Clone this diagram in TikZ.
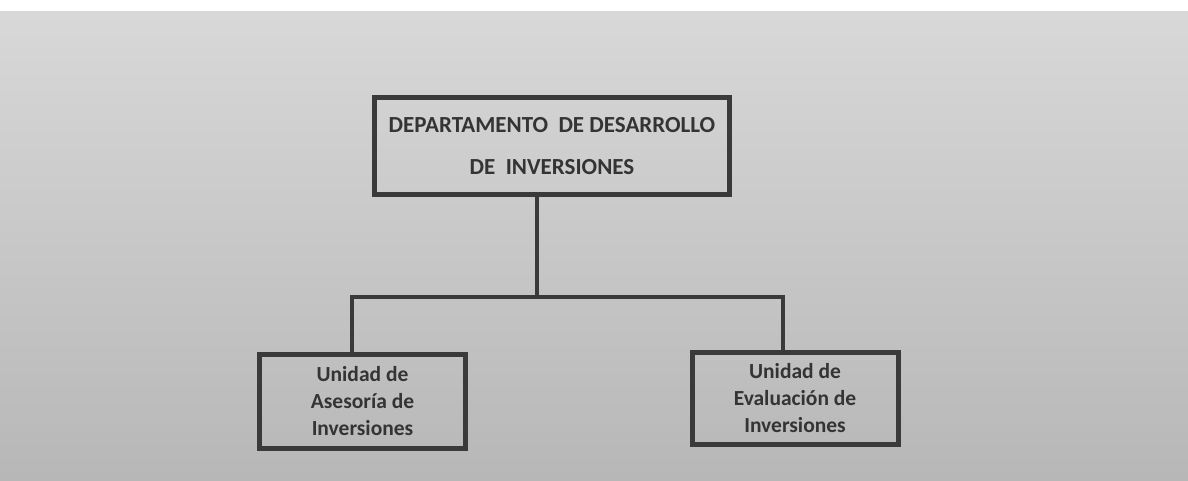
\documentclass[tikz,border=0pt]{standalone}
\usepackage{fontspec}
\setmainfont{Carlito}
\definecolor{ink}{HTML}{3A3A3A}
\definecolor{scanhi}{HTML}{D8D8D8}
\definecolor{scanlo}{HTML}{B7B7B7}
\begin{document}
\begin{tikzpicture}[
          x=1pt, y=1pt,
          line join=miter,
          unitbox/.style={rectangle, draw=ink, line width=5pt, align=center,
            font=\fontsize{21.5}{27}\selectfont\bfseries, text=ink!90!black},
          linkline/.style={draw=ink, line width=3.5pt}
        ]
        
        % scanned page
        \useasboundingbox (0,0) rectangle (1188,480);
        \fill[white] (0,0) rectangle (1188,480);
        \shade[top color=scanhi, bottom color=scanlo] (0,0) rectangle (1188,468);
        
        % top of the chart
        \node[unitbox, minimum width=355pt, minimum height=97pt,
              font=\fontsize{23}{42}\selectfont\bfseries] (dept) at (552,334)
            {DEPARTAMENTO\ \ DE DESARROLLO\\DE\ \ INVERSIONES};
        
        % units
        \node[unitbox, minimum width=206pt, minimum height=94pt] (asesoria) at (362.5,78.5)
            {Unidad de\\Asesoría de\\Inversiones};
        \node[unitbox, minimum width=206pt, minimum height=92pt] (evaluacion) at (795,81.5)
            {Unidad de\\Evaluación de\\Inversiones};
        
        % links
        \coordinate (busmid) at (537,183);
        \coordinate (busleft) at (352,183);
        \coordinate (busright) at (783,183);
        \draw[linkline] (dept.south -| busmid) -- (busmid);
        \draw[linkline] (asesoria.north -| busleft) -- (busleft) -- (busright)
            -- (evaluacion.north -| busright);
        
        \end{tikzpicture}
\end{document}
